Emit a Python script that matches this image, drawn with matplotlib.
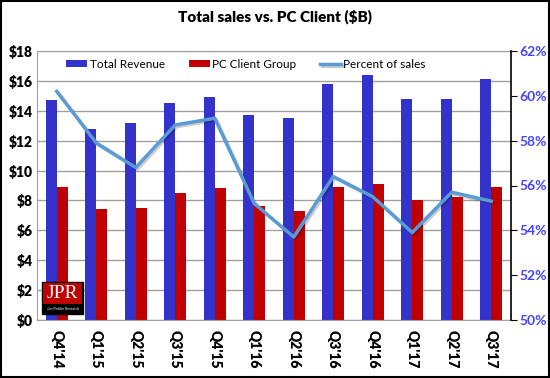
import matplotlib
matplotlib.use("Agg")
import matplotlib.pyplot as plt
import matplotlib.patheffects as pe
from matplotlib.patches import Rectangle
import numpy as np

quarters = ["Q4'14", "Q1'15", "Q2'15", "Q3'15", "Q4'15", "Q1'16",
            "Q2'16", "Q3'16", "Q4'16", "Q1'17", "Q2'17", "Q3'17"]
total_revenue = [14.7, 12.8, 13.2, 14.5, 14.9, 13.7, 13.5, 15.8, 16.4, 14.8, 14.8, 16.1]
pc_client = [8.9, 7.4, 7.5, 8.5, 8.8, 7.6, 7.3, 8.9, 9.1, 8.0, 8.2, 8.9]
pct_sales = [60.2, 57.9, 56.8, 58.7, 59.0, 55.2, 53.7, 56.4, 55.5, 53.9, 55.7, 55.3]

plt.rcParams["font.family"] = ["Lato", "DejaVu Sans"]

fig = plt.figure(figsize=(5.5, 3.78), dpi=100)
ax = fig.add_axes([37 / 550, 1 - 320 / 378, 474 / 550, 269 / 378])
ax2 = ax.twinx()

x = np.arange(len(quarters))
w = 0.28
ax.bar(x - w / 2, total_revenue, w, color="#3333cc", label="Total Revenue", zorder=2)
ax.bar(x + w / 2, pc_client, w, color="#c00000", label="PC Client Group", zorder=2)

ax.set_xlim(-0.5, len(quarters) - 0.5)
ax.set_ylim(0, 18)
ax.set_yticks(range(0, 19, 2))
ax.set_yticklabels([f"${v}" for v in range(0, 19, 2)], fontsize=10, fontweight="heavy")
ax.yaxis.grid(True, color="#a0a0a0", linewidth=1, zorder=0)
ax.set_axisbelow(True)
ax.tick_params(axis="y", length=0, pad=3)
ax.set_xticks(x)
ax.set_xticklabels(quarters, rotation=-90, fontsize=10, fontweight="heavy")
ax.tick_params(axis="x", length=0, pad=7)
for s in ["left", "top", "bottom"]:
    ax.spines[s].set_color("#a0a0a0")
ax.spines["right"].set_visible(False)

line, = ax2.plot(x, pct_sales, color="#5b9bd5", linewidth=2.5, label="Percent of sales",
                 path_effects=[pe.SimpleLineShadow(offset=(1.2, -1.2), alpha=0.2),
                               pe.Normal()])
ax2.set_ylim(50, 62)
ax2.set_yticks(range(50, 63, 2))
ax2.set_yticklabels([f"{v}%" for v in range(50, 63, 2)], fontsize=10,
                    fontweight="bold", color="#4444ff")
ax2.tick_params(axis="y", direction="out", length=4, color="black", pad=2)
ax2.spines["right"].set_color("black")
ax2.spines["right"].set_linewidth(1.2)
for s in ["left", "top", "bottom"]:
    ax2.spines[s].set_visible(False)

h1, l1 = ax.get_legend_handles_labels()
ax2.legend(h1 + [line], l1 + ["Percent of sales"], loc="upper center", ncol=3,
           frameon=False, fontsize=8.5, bbox_to_anchor=(0.441, 1.01),
           handlelength=1.8, handleheight=0.5, handletextpad=0.2, columnspacing=2.0)

fig.text(0.5, 1 - 17 / 378, "Total sales vs. PC Client ($B)", ha="center", va="center",
         fontsize=11, fontweight="heavy")

# JPR logo
ax.add_patch(Rectangle((0.0105, 0.022), 0.087, 0.119, transform=ax.transAxes,
                       facecolor="black", edgecolor="black", zorder=5))
ax.add_patch(Rectangle((0.013, 0.06), 0.082, 0.077, transform=ax.transAxes,
                       facecolor="#c00000", edgecolor="none", zorder=6))
ax.text(0.054, 0.097, "JPR", transform=ax.transAxes, ha="center", va="center",
        color="white", fontsize=14, family="Liberation Serif", zorder=7)
ax.text(0.054, 0.04, "Jon Peddie Research", transform=ax.transAxes, ha="center",
        va="center", color="white", fontsize=2.5, zorder=7)

fig.patches.append(Rectangle((0.002, 0.003), 0.996, 0.994, transform=fig.transFigure,
                             fill=False, edgecolor="black", linewidth=1.5))

fig.savefig("out.png", dpi=100)
